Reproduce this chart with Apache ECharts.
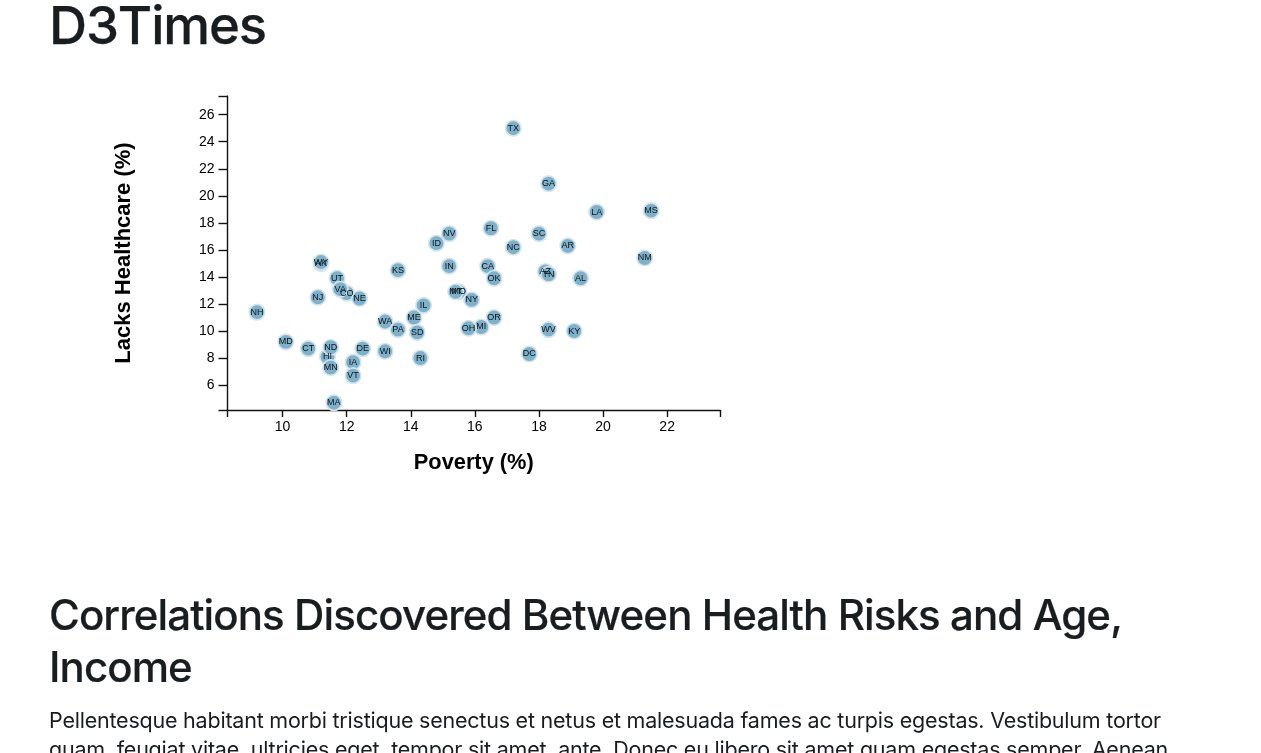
<!DOCTYPE html>
<html>
<head>
<meta charset="utf-8">
<title>D3Times</title>
<script src="https://cdn.jsdelivr.net/npm/echarts@6/dist/echarts.min.js"></script>
<style>
html,body{margin:0;padding:0;width:1261px;height:753px;overflow:hidden;background:#fff;}
#chart{position:absolute;left:0;top:0;width:1261px;height:753px;}
.t{position:absolute;left:49px;margin:0;color:#1a1d20;font-family:Inter,"Noto Sans",sans-serif;white-space:nowrap;z-index:2;}
#h1{top:-9px;font-size:52.7px;line-height:68px;font-weight:500;letter-spacing:-1.1px;-webkit-text-stroke:0.25px #1a1d20;}
#h2{top:589px;font-size:42px;line-height:52px;font-weight:500;letter-spacing:-0.9px;-webkit-text-stroke:0.2px #1a1d20;}
#p{top:706px;font-size:21.5px;line-height:29px;font-weight:400;letter-spacing:-0.22px;}
</style>
</head>
<body>
<div id="chart"></div>
<h1 class="t" id="h1">D3Times</h1>
<h2 class="t" id="h2">Correlations Discovered Between Health Risks and Age,<br>Income</h2>
<p class="t" id="p">Pellentesque habitant morbi tristique senectus et netus et malesuada fames ac turpis egestas. Vestibulum tortor<br>quam, feugiat vitae, ultricies eget, tempor sit amet, ante. Donec eu libero sit amet quam egestas semper. Aenean</p>
<script>
const states = ["AL","AK","AZ","AR","CA","CO","CT","DE","DC","FL","GA","HI","ID","IL","IN","IA","KS","KY","LA","ME","MD","MA","MI","MN","MS","MO","MT","NE","NV","NH","NJ","NM","NY","NC","ND","OH","OK","OR","PA","RI","SC","SD","TN","TX","UT","VT","VA","WA","WV","WI","WY"];
const poverty = [19.3,11.2,18.2,18.9,16.4,12.0,10.8,12.5,17.7,16.5,18.3,11.4,14.8,14.4,15.2,12.2,13.6,19.1,19.8,14.1,10.1,11.6,16.2,11.5,21.5,15.5,15.4,12.4,15.2,9.2,11.1,21.3,15.9,17.2,11.5,15.8,16.6,16.6,13.6,14.3,18.0,14.2,18.3,17.2,11.7,12.2,11.8,13.2,18.3,13.2,11.2];
const healthcare = [13.9,15.0,14.4,16.3,14.8,12.8,8.7,8.7,8.3,17.6,20.9,8.1,16.5,11.9,14.8,7.7,14.5,10.0,18.8,11.0,9.2,4.7,10.3,7.3,18.9,12.9,12.9,12.4,17.2,11.4,12.5,15.4,12.3,16.2,8.8,10.2,13.9,11.0,10.1,8.0,17.2,9.9,14.2,25.0,13.9,6.7,13.1,10.7,10.1,8.5,15.1];
const xTickLabels = [10,12,14,16,18,20,22];
const yTickLabels = [6,8,10,12,14,16,18,20,22,24,26];
const xMin = 8.265, xMax = 23.665, yMin = 4.16, yMax = 27.38;
const axisTitles = {x:"Poverty (%)", y:"Lacks Healthcare (%)"};

const font = '"Liberation Sans",Arial,sans-serif';
const chart = echarts.init(document.getElementById('chart'), null, {renderer:'canvas'});
const axisCommon = {
  type:'value', nameLocation:'middle',
  axisLine:{show:true,onZero:false,lineStyle:{color:'#111',width:1.4}},
  splitLine:{show:false}, minorTick:{show:false}
};
chart.setOption({
  animation:false,
  grid:{left:227,top:96,width:493.5,height:314,containLabel:false},
  xAxis:Object.assign({},axisCommon,{
    min:xMin,max:xMax,name:axisTitles.x,nameGap:42,
    nameTextStyle:{fontFamily:font,fontWeight:'bold',fontSize:21.8,color:'#000'},
    axisTick:{show:true,length:7,inside:false,lineStyle:{color:'#111',width:1.4},customValues:[xMin].concat(xTickLabels,[xMax])},
    axisLabel:{show:true,margin:10.5,fontFamily:font,fontSize:14,color:'#000',customValues:xTickLabels,showMinLabel:true,showMaxLabel:true}
  }),
  yAxis:Object.assign({},axisCommon,{
    min:yMin,max:yMax,name:axisTitles.y,nameGap:92,
    nameTextStyle:{fontFamily:font,fontWeight:'bold',fontSize:22,color:'#000'},
    axisTick:{show:true,length:8.5,inside:false,lineStyle:{color:'#111',width:1.4},customValues:[yMin].concat(yTickLabels,[yMax])},
    axisLabel:{show:true,margin:12.5,fontFamily:font,fontSize:14,color:'#000',customValues:yTickLabels,showMinLabel:true,showMaxLabel:true}
  }),
  series:[{
    type:'scatter',
    symbol:'circle',symbolSize:15.5,
    clip:false,
    data:states.map((s,i)=>({name:s,value:[poverty[i],healthcare[i]]})),
    itemStyle:{color:'#7fb1ca',opacity:1,borderColor:'#d6e5ec',borderWidth:1.6},
    label:{show:true,position:'inside',formatter:p=>p.name,fontFamily:font,fontSize:9,color:'#08161f'},
    labelLayout:{hideOverlap:false},
    emphasis:{disabled:true}
  }]
});
</script>
</body>
</html>
